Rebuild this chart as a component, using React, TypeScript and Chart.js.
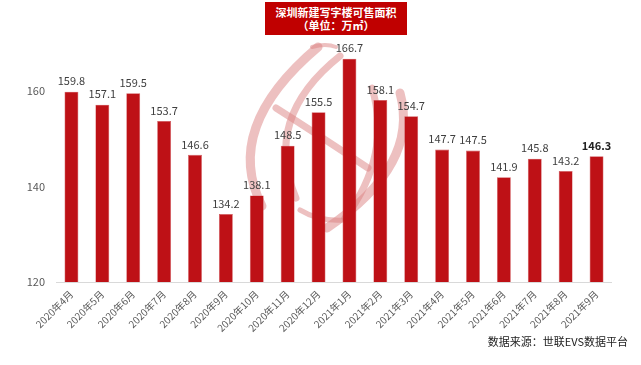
import React, { useEffect, useRef } from "react";
import { Chart, registerables } from "chart.js";

Chart.register(...registerables);

const categories = [
  "2020年4月", "2020年5月", "2020年6月", "2020年7月", "2020年8月", "2020年9月",
  "2020年10月", "2020年11月", "2020年12月", "2021年1月", "2021年2月", "2021年3月",
  "2021年4月", "2021年5月", "2021年6月", "2021年7月", "2021年8月", "2021年9月",
];
const values = [
  159.8, 157.1, 159.5, 153.7, 146.6, 134.2, 138.1, 148.5, 155.5, 166.7, 158.1, 154.7,
  147.7, 147.5, 141.9, 145.8, 143.2, 146.3,
];
const yTicks = [120, 140, 160];
const titleLines = ["深圳新建写字楼可售面积", "（单位：万㎡）"];
const sourceText = "数据来源：世联EVS数据平台";

const FONT = "'Noto Sans CJK SC', 'Noto Sans', sans-serif";

const watermark = {
  id: "watermark",
  beforeDatasetsDraw(chart: any) {
    const ctx = chart.ctx;
    ctx.save();
    ctx.strokeStyle = "rgba(220,130,130,0.5)";
    ctx.lineCap = "round";
    const curve = (pts: number[], w: number) => {
      ctx.lineWidth = w;
      ctx.beginPath();
      ctx.moveTo(pts[0], pts[1]);
      ctx.quadraticCurveTo(pts[2], pts[3], pts[4], pts[5]);
      ctx.stroke();
    };
    curve([318, 47, 222, 128, 262, 206], 9);
    curve([312, 47, 326, 43, 336, 47], 4);
    curve([340, 56, 262, 118, 296, 198], 7);
    curve([276, 108, 320, 136, 368, 168], 7);
    curve([372, 88, 392, 155, 345, 218], 7);
    curve([400, 93, 420, 165, 327, 228], 9);
    curve([300, 210, 320, 222, 345, 220], 5);
    ctx.restore();
  },
};

const labelsPlugin = {
  id: "barLabels",
  afterDatasetsDraw(chart: any) {
    const ctx = chart.ctx;
    const meta = chart.getDatasetMeta(0);
    ctx.save();
    ctx.textAlign = "center";
    ctx.textBaseline = "bottom";
    meta.data.forEach((bar: any, i: number) => {
      const last = i === values.length - 1;
      ctx.font = (last ? "bold " : "") + "11px " + FONT;
      ctx.fillStyle = last ? "#222222" : "#404040";
      ctx.fillText(values[i].toFixed(1), bar.x, bar.y - 5);
    });
    const y = chart.scales.y.getPixelForValue(120);
    ctx.strokeStyle = "#D9D9D9";
    ctx.lineWidth = 1;
    ctx.beginPath();
    ctx.moveTo(chart.chartArea.left, Math.round(y) + 0.5);
    ctx.lineTo(chart.chartArea.right, Math.round(y) + 0.5);
    ctx.stroke();
    ctx.restore();
  },
};

export default function App() {
  const ref = useRef<HTMLCanvasElement>(null);
  useEffect(() => {
    if (!ref.current) return;
    const chart = new Chart(ref.current, {
      type: "bar",
      data: {
        labels: categories,
        datasets: [
          {
            data: values,
            backgroundColor: "#BE1116",
            borderColor: "#D05A5E",
            borderWidth: 0.6,
            categoryPercentage: 0.9,
            barPercentage: 0.5,
          },
        ],
      },
      plugins: [watermark, labelsPlugin],
      options: {
        animation: false,
        responsive: false,
        maintainAspectRatio: false,
        layout: { padding: { top: 43, right: 29, left: 0, bottom: 0 } },
        plugins: { legend: { display: false }, tooltip: { enabled: false } },
        scales: {
          x: {
            grid: { display: false, drawTicks: false },
            border: { display: false },
            ticks: {
              maxRotation: 45,
              minRotation: 45,
              autoSkip: false,
              padding: 6,
              color: "#595959",
              font: { family: FONT, size: 10 },
            },
            afterFit: (s: any) => {
              s.height = 83;
            },
          },
          y: {
            min: 120,
            max: 170,
            grid: { display: false, drawTicks: false },
            border: { display: false },
            ticks: {
              padding: 11,
              color: "#595959",
              font: { family: FONT, size: 11 },
            },
            afterBuildTicks: (s: any) => {
              s.ticks = yTicks.map((v) => ({ value: v }));
            },
            afterFit: (s: any) => {
              s.width = 56;
            },
          },
        },
      },
    });
    return () => chart.destroy();
  }, []);

  return (
    <div
      style={{
        position: "fixed",
        left: 0,
        top: 0,
        width: 641,
        height: 365,
        background: "#ffffff",
        fontFamily: FONT,
      }}
    >
      <canvas ref={ref} width={641} height={365} style={{ position: "absolute", left: 0, top: 0 }} />
      <div
        style={{
          position: "absolute",
          left: 265,
          top: 2,
          width: 142,
          height: 33,
          background: "#C00000",
          color: "#ffffff",
          fontWeight: "bold",
          fontSize: 11,
          lineHeight: "13px",
          textAlign: "center",
          display: "flex",
          flexDirection: "column",
          justifyContent: "center",
        }}
      >
        <div>{titleLines[0]}</div>
        <div>{titleLines[1]}</div>
      </div>
      <div
        style={{
          position: "absolute",
          right: 13,
          top: 333,
          fontSize: 11,
          color: "#222222",
          whiteSpace: "nowrap",
        }}
      >
        {sourceText}
      </div>
    </div>
  );
}
